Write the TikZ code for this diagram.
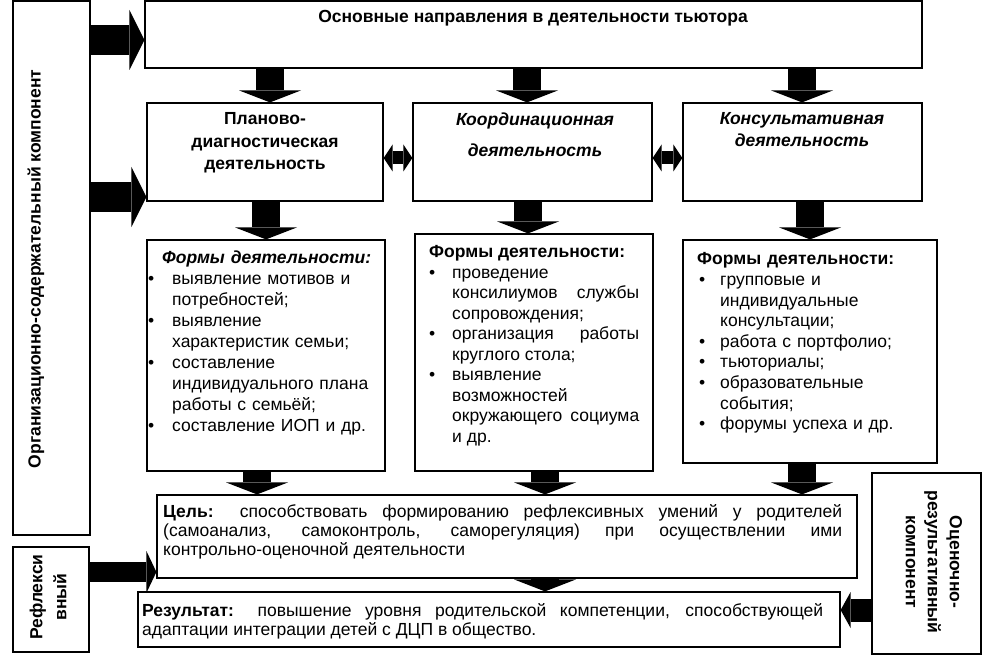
\documentclass[tikz,border=0pt]{standalone}
\usepackage{fontspec}
\setmainfont{Liberation Sans}
\usetikzlibrary{arrows.meta,positioning}

\newcommand{\pkt}[1]{\par\noindent\hangindent=#1\hangafter=1\makebox[#1][l]{\textbullet}}

\begin{document}
\fontsize{17.5}{21}\selectfont
\begin{tikzpicture}[x=1pt, y=-1pt,
    box/.style={draw, line width=1.2pt, inner sep=0pt},
    txt/.style={inner sep=0pt},
    fatdown/.style={line width=28pt, -{Triangle[width=62pt, length=12pt, line width=0pt]}},
    fatside/.style={line width=30pt, -{Triangle[width=60pt, length=15pt, line width=0pt]}},
    fattwin/.style={line width=13pt, {Triangle[width=27pt, length=9pt, line width=0pt]}-{Triangle[width=27pt, length=9pt, line width=0pt]}}]
\useasboundingbox (0,0) rectangle (1008,655);

% Boxes
\node[box, minimum width=77pt, minimum height=534pt] (org) at (51.5,268) {};
\node[box, minimum width=777pt, minimum height=67pt] (osn) at (533.5,34.5) {};
\node[box, minimum width=236pt, minimum height=98pt] (plan) at (265,152) {};
\node[box, minimum width=239pt, minimum height=98pt] (koord) at (532.5,152) {};
\node[box, minimum width=239pt, minimum height=98pt] (kons) at (802.5,152) {};
\node[box, minimum width=238pt, minimum height=231pt] (formA) at (266,355.5) {};
\node[box, minimum width=238pt, minimum height=237pt] (formB) at (534,352.5) {};
\node[box, minimum width=254pt, minimum height=223pt] (formC) at (810,351.5) {};
\node[box, minimum width=700pt, minimum height=83pt] (cel) at (507,536.5) {};
\node[box, minimum width=702pt, minimum height=55pt] (rez) at (489,619.5) {};
\node[box, minimum width=76pt, minimum height=105pt] (refl) at (51,599.5) {};
\node[box, minimum width=109pt, minimum height=181pt] (ocen) at (926.5,563.5) {};

% Texts
\node[txt, font=\bfseries, anchor=base] (osnT) at (533,23) {Основные направления в деятельности тьютора};
\node[txt, font=\bfseries, align=center, anchor=north] (planT) at (265,112.5) {Планово-\\[1.5pt]диагностическая\\[1pt]деятельность};
\node[txt, font=\bfseries\itshape, align=center, anchor=north] (koordT) at (535,112.5) {Координационная\\[10pt]деятельность};
\node[txt, font=\bfseries\itshape, align=center, anchor=north] (konsT) at (802,112.5) {Консультативная\\[1pt]деятельность};

\node[txt, anchor=north west, text width=234pt, align=left] (formAT) at (148,250.5) {%
  \hspace*{14pt}\textbf{\textit{Формы деятельности:}}
  \pkt{24pt}выявление мотивов и\newline потребностей;
  \pkt{24pt}выявление\newline характеристик семьи;
  \pkt{24pt}составление\newline индивидуального плана\newline работы с семьёй;
  \pkt{24pt}составление ИОП и др.\par};
\node[txt, anchor=north west, text width=210pt, align=justify, font=\fontsize{17.5}{20.5}\selectfont] (formBT) at (429,245.5) {%
  \textbf{Формы деятельности:}
  \pkt{23pt}проведение\newline консилиумов службы\linebreak сопровождения;
  \pkt{23pt}организация работы\linebreak круглого стола;
  \pkt{23pt}выявление\newline возможностей\newline окружающего социума\linebreak и др.\par};
\node[txt, anchor=north west, text width=235pt, align=left, font=\fontsize{17.5}{20.6}\selectfont] (formCT) at (699,252.5) {%
  \hspace*{-2pt}\textbf{Формы деятельности:}
  \pkt{21pt}групповые и\newline индивидуальные\newline консультации;
  \pkt{21pt}работа с портфолио;
  \pkt{21pt}тьюториалы;
  \pkt{21pt}образовательные\newline события;
  \pkt{21pt}форумы успеха и др.\par};

\node[txt, anchor=north west, text width=679pt, align=justify, font=\fontsize{17.5}{19}\selectfont] (celT) at (163,504.5) {\textbf{Цель:} способствовать формированию рефлексивных умений у родителей\linebreak (самоанализ, самоконтроль, саморегуляция) при осуществлении ими\linebreak контрольно-оценочной деятельности};
\node[txt, anchor=north west, text width=681pt, align=justify, font=\fontsize{17.5}{19}\selectfont] (rezT) at (142,603.5) {\textbf{Результат:} повышение уровня родительской компетенции, способствующей\linebreak адаптации интеграции детей с ДЦП в общество.};

\node[txt, rotate=90, font=\bfseries] (orgT) at (36,269) {Организационно-содержательный компонент};
\node[txt, rotate=90, align=center, font=\bfseries] (reflT) at (48,597) {Рефлекси\\[3pt]вный};
\node[txt, rotate=-90, align=center, font=\bfseries] (ocenT) at (934,562) {Оценочно-\\[1pt]результативный\\[1pt]компонент};

% Arrows
\draw[fatside] (org.east |- 0,40) -- (osn.west |- 0,40);
\draw[fatside] (org.east |- 0,197) -- (plan.west |- 0,197);
\draw[fatdown] (osn.south -| 270,0) -- (plan.north -| 270,0);
\draw[fatdown] (osn.south -| 527,0) -- (koord.north -| 527,0);
\draw[fatdown] (osn.south -| 802,0) -- (kons.north -| 802,0);
\draw[fatdown] (plan.south -| 266,0) -- (formA.north -| 266,0);
\draw[fatdown] (koord.south -| 528,0) -- (formB.north -| 528,0);
\draw[fatdown] (kons.south -| 810,0) -- (formC.north -| 810,0);
\draw[fatdown] (formA.south -| 257,0) -- (cel.north -| 257,0);
\draw[fatdown] (formB.south -| 545,0) -- (cel.north -| 545,0);
\draw[fatdown] (formC.south -| 802,0) -- (cel.north -| 802,0);
\draw[fatdown] (cel.south -| 545,0) -- (rez.north -| 545,0);
\draw[fattwin] (plan.east |- 0,158) -- (koord.west |- 0,158);
\draw[fattwin] (koord.east |- 0,158) -- (kons.west |- 0,158);
\draw[line width=20pt, -{Triangle[width=42pt, length=10pt, line width=0pt]}] (refl.east |- 0,572) -- (cel.west |- 0,572);
\draw[line width=23pt, -{Triangle[width=36pt, length=10pt, line width=0pt]}] (ocen.west |- 0,610) -- (rez.east |- 0,610);
\end{tikzpicture}
\end{document}
